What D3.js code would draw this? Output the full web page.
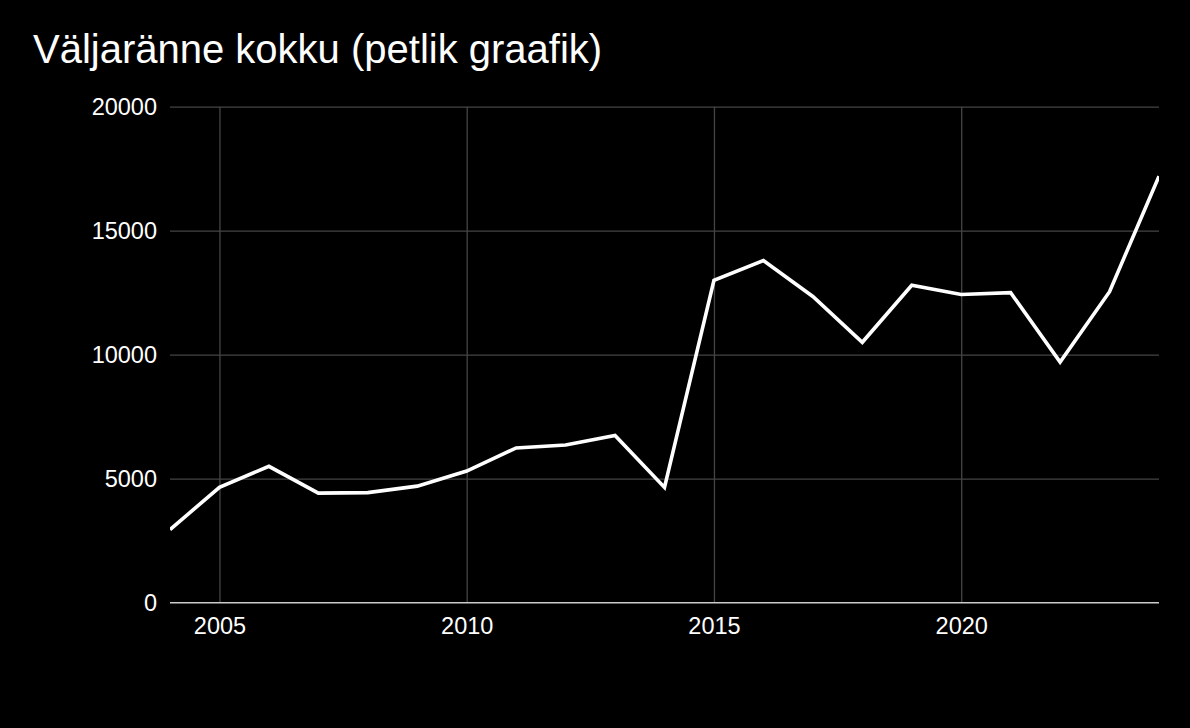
<!DOCTYPE html>
<html>
<head>
<meta charset="utf-8">
<script src="https://cdn.jsdelivr.net/npm/d3@7"></script>
<style>
  html, body { margin: 0; padding: 0; background: #000; }
  svg { display: block; }
  text { font-family: Arial, "Liberation Sans", sans-serif; fill: #fff; }
</style>
</head>
<body>
<svg id="chart" width="1190" height="728"></svg>
<script>
const title = "Väljaränne kokku (petlik graafik)";
const years = [2004, 2005, 2006, 2007, 2008, 2009, 2010, 2011, 2012, 2013, 2014,
               2015, 2016, 2017, 2018, 2019, 2020, 2021, 2022, 2023, 2024];
const values = [2950, 4650, 5500, 4420, 4440, 4700, 5310, 6240, 6360, 6740, 4650,
                13000, 13800, 12350, 10500, 12800, 12430, 12500, 9700, 12540, 17200];
const yTicks = [0, 5000, 10000, 15000, 20000];
const xTicks = [2005, 2010, 2015, 2020];

const W = 1190, H = 728;
const margin = { top: 106.7, right: 31, bottom: 125.3, left: 170 };
const iw = W - margin.left - margin.right;
const ih = H - margin.top - margin.bottom;

const svg = d3.select("#chart");
svg.append("rect").attr("width", W).attr("height", H).attr("fill", "#000");

svg.append("text")
  .attr("x", 33).attr("y", 62.5)
  .attr("font-size", 40)
  .text(title);

const g = svg.append("g").attr("transform", `translate(${margin.left},${margin.top})`);

const x = d3.scaleLinear().domain([2004, 2024]).range([0, iw]);
const y = d3.scaleLinear().domain([0, 20000]).range([ih, 0]);

// horizontal grid
g.append("g")
  .call(d3.axisLeft(y).tickValues(yTicks.filter(v => v !== 0)).tickSize(-iw).tickFormat(""))
  .call(s => s.select(".domain").remove())
  .call(s => s.selectAll("line").attr("stroke", "#454545").attr("stroke-width", 1.3));

// vertical grid
g.append("g")
  .attr("transform", `translate(0,${ih})`)
  .call(d3.axisBottom(x).tickValues(xTicks).tickSize(-ih).tickFormat(""))
  .call(s => s.select(".domain").remove())
  .call(s => s.selectAll("line").attr("stroke", "#454545").attr("stroke-width", 1.3));

// y labels
g.append("g")
  .call(d3.axisLeft(y).tickValues(yTicks).tickSize(0).tickPadding(13).tickFormat(d3.format("d")))
  .call(s => s.select(".domain").remove())
  .call(s => s.selectAll("text").attr("font-size", 23.5).attr("fill", "#fff")
      .attr("font-family", "Arial, 'Liberation Sans', sans-serif"));

// x labels
g.append("g")
  .attr("transform", `translate(0,${ih})`)
  .call(d3.axisBottom(x).tickValues(xTicks).tickSize(0).tickPadding(15).tickFormat(d3.format("d")))
  .call(s => s.select(".domain").remove())
  .call(s => s.selectAll("text").attr("font-size", 23.5).attr("fill", "#fff")
      .attr("font-family", "Arial, 'Liberation Sans', sans-serif"));

// baseline
g.append("line")
  .attr("x1", 0).attr("x2", iw)
  .attr("y1", y(0)).attr("y2", y(0))
  .attr("stroke", "#cccccc").attr("stroke-width", 1.5);

// clip
svg.append("defs").append("clipPath").attr("id", "clip")
  .append("rect").attr("x", 0).attr("y", -10).attr("width", iw).attr("height", ih + 20);

const data = years.map((yr, i) => ({ yr, v: values[i] }));
g.append("path")
  .datum(data)
  .attr("clip-path", "url(#clip)")
  .attr("fill", "none")
  .attr("stroke", "#ffffff")
  .attr("stroke-width", 3.6)
  .attr("stroke-linejoin", "miter")
  .attr("d", d3.line().x(d => x(d.yr)).y(d => y(d.v)));
</script>
</body>
</html>
